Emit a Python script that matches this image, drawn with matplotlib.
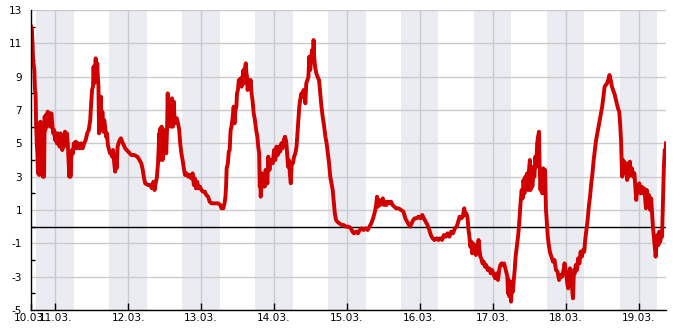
"""Air temperature, 10.03. - 19.03., with night-time shading."""
import matplotlib

matplotlib.use("Agg")
import matplotlib.pyplot as plt  # noqa: E402

# hours since 10.03. 00:00 and temperature in degrees C
hours = [
    16.0, 16.3, 16.5, 16.7, 16.9, 17.1, 17.3, 17.5, 17.7, 17.9, 18.1, 18.3, 18.5, 18.7, 18.9,
    19.1, 19.3, 19.5, 19.7, 19.9, 20.1, 20.3, 20.5, 20.7, 20.9, 21.2, 21.5, 21.8, 22.1, 22.4,
    22.7, 23.0, 23.3, 23.6, 23.9, 24.2, 24.5, 24.8, 25.1, 25.4, 25.7, 26.0, 26.3, 26.6, 26.9,
    27.2, 27.5, 27.8, 28.1, 28.4, 28.6, 28.8, 29.0, 29.2, 29.5, 29.8, 30.1, 30.4, 30.7, 31.0,
    31.5, 32.0, 32.5, 33.0, 33.5, 34.0, 34.5, 35.0, 35.5, 35.8, 36.1, 36.4, 36.6, 36.8, 37.0,
    37.3, 37.6, 37.8, 38.0, 38.2, 38.4, 38.6, 38.8, 39.0, 39.2, 39.5, 39.8, 40.1, 40.4, 40.7,
    41.0, 41.3, 41.7, 42.0, 42.4, 42.7,
    43.0, 43.4, 43.7, 43.9, 44.2, 44.5, 44.8, 45.2, 45.6, 46.0, 46.5, 47.0, 47.5, 48.0, 48.5,
    49.0, 50.0, 51.0, 51.7, 52.3, 52.8, 53.2, 53.6, 54.5, 55.2, 55.8, 56.3, 56.7, 57.0, 57.4,
    57.8, 58.0, 58.2, 58.4, 58.6, 58.8, 59.0, 59.3, 59.6, 59.9, 60.2, 60.5, 60.8, 61.0, 61.2,
    61.4, 61.6, 61.9, 62.1, 62.4, 62.7, 63.0, 63.3, 63.6, 64.0, 64.4, 64.8, 65.1, 65.5, 65.9,
    66.3, 66.7, 67.2, 67.7, 68.2, 68.7,
    69.2, 69.6, 69.9, 70.3, 70.7, 71.1, 71.6, 72.1, 72.6, 73.2, 73.7, 74.3, 74.8, 75.4, 76.5,
    77.6, 78.3, 78.7, 79.0, 79.3, 79.7, 80.0, 80.2, 80.4, 80.8, 81.1, 81.4, 81.7, 82.0, 82.4,
    82.7, 83.0, 83.3, 83.6, 83.8, 84.1, 84.4, 84.7, 85.0, 85.3, 85.6, 85.9, 86.2, 86.5, 86.7,
    86.9, 87.1, 87.3, 87.6, 88.0, 88.3, 88.6, 88.9, 89.3, 89.7, 90.1, 90.5, 90.8, 91.1, 91.3,
    91.5, 91.6, 91.8, 92.0, 92.3, 92.6, 92.9, 93.2, 93.5, 93.8, 94.1, 94.5, 94.8, 95.2, 95.6,
    96.0, 96.4, 96.8, 97.2, 97.6, 98.0, 98.4, 98.8, 99.2, 99.6, 100.0, 100.3, 100.6, 100.9,
    101.2, 101.5, 101.8, 102.2, 102.6, 103.0, 103.4, 103.7, 104.0, 104.3, 104.6, 105.0, 105.4,
    105.7, 106.0, 106.3, 106.6, 107.0, 107.3, 107.6, 107.9, 108.2, 108.5, 108.8, 109.0, 109.2,
    109.5, 109.9, 110.3, 110.8, 111.2, 111.6, 112.0, 112.5, 112.9, 113.3, 113.7, 114.1, 114.5,
    114.9, 115.3, 115.7, 116.0, 116.4, 116.8, 117.5, 118.2, 118.9, 119.6,
    120.5, 121.3, 121.8, 122.3, 123.0, 123.6, 124.2, 124.8, 125.5, 126.2, 126.8, 127.4, 128.0,
    128.6, 129.2, 129.6, 129.9, 130.2, 130.6, 131.0, 131.5, 131.8, 132.2, 132.6, 133.0, 133.5,
    134.0, 134.5, 135.0, 135.6, 136.2, 137.0, 137.8, 138.6, 139.2, 139.8, 140.4, 140.8, 141.3,
    141.8, 142.3, 142.9, 143.5, 144.2, 144.8, 145.3, 145.9, 146.5, 147.1, 147.6, 148.2, 148.8,
    149.5, 150.1, 150.7, 151.3, 151.9, 152.5, 153.1, 153.7, 154.3, 154.9, 155.5, 156.1, 156.6,
    157.1,
    157.6, 158.1, 158.4, 158.6, 158.9, 159.3, 159.7, 160.0, 160.3, 160.6, 160.9, 161.2, 161.5,
    161.8, 162.1, 162.4, 162.7, 163.0, 163.3, 163.6, 163.9, 164.2, 164.6, 165.0, 165.4, 165.8,
    166.3, 166.8, 167.3, 167.8, 168.3, 168.8, 169.3, 169.7, 170.1, 170.5, 170.9, 171.3, 171.7,
    172.1, 172.5, 172.8, 173.0, 173.2, 173.5, 173.8, 174.0, 174.3, 174.6, 174.9, 175.2, 175.5,
    175.9, 176.3, 176.6, 176.9, 177.2, 177.5, 177.8, 178.1, 178.4, 178.7, 179.0, 179.3, 179.6,
    179.9, 180.2, 180.4, 180.7, 181.0, 181.4, 181.7, 182.0, 182.3, 182.6, 182.9, 183.2, 183.4,
    183.7, 184.0, 184.3, 184.6, 184.9, 185.2, 185.5, 185.8, 186.1, 186.5, 186.9, 187.3, 187.8,
    188.3, 188.8, 189.3, 189.8, 190.3, 190.8, 191.3, 191.6, 191.9, 192.2, 192.5, 192.8, 193.1,
    193.4, 193.7, 194.0, 194.2, 194.4, 194.7, 195.0, 195.3, 195.7, 196.1, 196.5, 196.9, 197.3,
    197.7, 198.1, 198.4, 198.8, 199.2, 199.6, 200.0, 200.4, 200.8, 201.2, 201.6, 202.0, 202.4,
    202.8, 203.2, 203.6, 204.0, 204.4, 204.8, 205.2, 205.6, 206.0, 206.4, 206.8, 207.2, 207.6,
    208.0, 208.4, 208.8, 209.2, 209.6, 209.9, 210.2, 210.4, 210.6, 210.8, 211.0, 211.3, 211.6,
    211.9, 212.2, 212.5, 212.8, 213.1, 213.4, 213.8, 214.2, 214.6, 214.9, 215.2, 215.5, 215.8,
    216.2, 216.6, 217.0, 217.4, 217.8, 218.1, 218.4, 218.7, 219.0, 219.4, 219.8, 220.1, 220.4,
    220.7, 221.0, 221.3, 221.6, 221.9, 222.2, 222.5, 222.8, 223.1, 223.4, 223.7, 223.9, 224.1,
    224.3, 224.6, 224.8, 225.0,
]
temp = [
    12.0, 11.8, 11.0, 10.0, 9.7, 9.4, 8.2, 8.0, 6.0, 5.0, 4.4, 3.2, 4.8, 3.1, 5.6,
    6.3, 4.6, 6.2, 4.2, 3.0, 5.0, 3.0, 6.6, 5.8, 6.7, 6.0, 6.9, 6.2, 6.8, 6.0,
    6.8, 6.2, 5.6, 5.8, 5.2, 5.6, 5.0, 5.6, 5.4, 4.8, 5.6, 5.2, 4.6, 5.5, 4.8,
    5.7, 4.9, 5.6, 5.0, 3.8, 3.0, 4.4, 3.0, 4.0, 4.6, 4.4, 5.0, 4.7, 5.1, 4.7,
    5.0, 4.7, 5.0, 4.7, 5.0, 5.2, 5.6, 5.8, 6.4, 7.4, 8.2, 8.4, 9.6, 8.6, 9.3,
    10.1, 9.0, 9.8, 9.0, 8.4, 5.6, 7.4, 6.0, 7.8, 5.8, 6.9, 5.7, 6.4, 6.0, 5.4,
    5.6, 4.9, 4.6, 4.4, 4.4, 4.2,
    4.6, 3.8, 3.3, 4.2, 3.5, 4.8, 5.0, 5.2, 5.3, 5.1, 4.9, 4.7, 4.6, 4.5, 4.4,
    4.3, 4.3, 4.2, 4.0, 3.8, 3.4, 2.9, 2.6, 2.5, 2.5, 2.3, 2.7, 2.2, 2.6, 2.9,
    3.8, 4.6, 5.6, 4.0, 5.9, 4.2, 6.0, 4.0, 5.6, 4.5, 5.8, 4.4, 6.0, 8.0, 6.0,
    7.6, 6.2, 7.2, 6.0, 7.7, 6.0, 7.5, 6.2, 6.4, 6.5, 6.2, 5.8, 5.0, 4.4, 4.0,
    3.5, 3.1, 3.2, 3.0, 3.1, 2.9,
    3.2, 2.5, 2.9, 2.3, 2.7, 2.3, 2.4, 2.2, 2.1, 2.1, 1.9, 1.8, 1.5, 1.4, 1.4,
    1.4, 1.3, 1.1, 1.2, 1.1, 1.4, 1.8, 2.4, 3.5, 3.8, 4.5, 4.6, 5.8, 6.0, 6.6,
    7.2, 6.2, 7.0, 7.2, 8.0, 8.2, 8.8, 8.6, 8.9, 8.4, 8.9, 9.4, 8.6, 9.6, 9.8,
    9.2, 9.0, 8.2, 8.8, 8.4, 8.8, 8.0, 7.6, 6.8, 6.4, 5.8, 5.4, 4.8, 4.4, 2.4,
    3.0, 1.8, 2.3, 3.2, 2.6, 3.0, 2.4, 3.4, 3.2, 2.6, 4.2, 3.4, 4.0, 4.0, 3.8,
    4.6, 4.0, 4.8, 4.3, 4.8, 4.5, 5.0, 4.7, 5.2, 5.4, 5.1, 4.4, 3.6, 4.0,
    3.2, 2.6, 3.8, 3.8, 4.2, 4.4, 4.8, 5.6, 6.4, 7.2, 7.6, 8.0, 7.8,
    8.2, 8.0, 7.4, 8.6, 8.8, 9.0, 10.2, 9.4, 10.0, 10.6, 10.0, 11.2, 10.2,
    9.6, 9.2, 9.0, 8.8, 8.0, 7.2, 6.6, 6.0, 5.4, 5.0, 4.4, 3.8, 3.0,
    2.6, 2.2, 1.4, 0.8, 0.4, 0.3, 0.2, 0.1, 0.1, 0.0,
    0.0, -0.1, -0.3, -0.4, -0.3, -0.4, -0.2, -0.1, -0.2, -0.1, -0.2, 0.0, 0.2,
    0.5, 0.9, 1.3, 1.8, 1.2, 1.6, 1.3, 1.5, 1.7, 1.3, 1.5, 1.3, 1.5,
    1.4, 1.5, 1.3, 1.2, 1.1, 1.1, 1.0, 0.9, 0.5, 0.3, 0.1, 0.0, 0.2,
    0.4, 0.5, 0.5, 0.6, 0.5, 0.7, 0.5, 0.3, 0.1, -0.2, -0.5, -0.7, -0.8,
    -0.7, -0.8, -0.7, -0.8, -0.5, -0.6, -0.4, -0.6, -0.3, -0.4, -0.1, 0.0, 0.3,
    0.6,
    0.5, 0.6, 0.9, 1.1, 0.7, 0.8, 0.5, -0.2, -0.6, -1.2, -0.9, -1.6, -1.0,
    -1.5, -1.1, -1.7, -1.3, -1.6, -0.8, -1.4, -1.8, -1.9, -2.2, -2.1, -2.4, -2.3,
    -2.6, -2.5, -2.8, -2.6, -2.9, -3.1, -2.8, -3.2, -2.6, -2.3, -2.2, -2.3, -2.2,
    -2.5, -2.8, -3.0, -4.0, -3.2, -4.2, -3.3, -4.5, -3.6, -3.9, -3.2, -2.6, -1.8,
    -1.2, -0.6, 0.0, 0.8, 1.6, 2.2, 1.7, 2.8, 2.0, 3.0, 2.4, 3.2, 2.2,
    3.4, 4.0, 2.2, 3.6, 2.4, 3.2, 3.0, 4.2, 3.6, 5.0, 5.4, 5.7, 3.6,
    2.2, 3.4, 2.0, 3.5, 2.2, 3.4, 1.0, 0.2, -0.6, -1.2, -1.6, -1.8, -2.1,
    -2.0, -2.6, -2.7, -3.2, -2.9, -3.0, -2.6, -2.2, -2.5, -2.9, -3.4, -3.7, -3.0,
    -2.5, -3.4, -3.1, -4.0, -4.3, -2.6, -2.8, -2.3, -2.6, -1.9, -2.2, -1.5, -1.8,
    -1.4, -1.5, -0.8, -0.2, 0.4, 1.2, 1.8, 2.6, 3.2, 4.0, 4.6, 5.2, 5.6,
    6.0, 6.4, 6.8, 7.2, 7.8, 8.4, 8.5, 8.6, 8.8, 9.1, 8.8, 8.4, 8.2,
    8.0, 7.7, 7.4, 7.1, 6.9, 6.2, 5.2, 3.9, 3.0, 4.0, 3.4, 3.9, 3.2,
    3.6, 2.8, 3.8, 3.0, 3.9, 3.1, 3.5, 3.0, 3.2, 2.4, 1.6, 2.2, 2.1,
    2.6, 2.0, 2.4, 2.0, 2.3, 1.8, 1.1, 2.2, 1.2, 1.9, 1.0, 1.7, 0.8,
    0.0, -0.6, -1.2, -1.8, -1.0, -0.5, -1.1, -0.3, -0.9, -0.4, -0.6, 0.8, 2.4,
    3.6, 4.6, 4.2, 5.0,
]

day_labels = ["10.03.", "11.03.", "12.03.", "13.03.", "14.03.",
              "15.03.", "16.03.", "17.03.", "18.03.", "19.03."]
y_major = [-5, -3, -1, 1, 3, 5, 7, 9, 11, 13]
y_minor = [-4, -2, 0, 2, 4, 6, 8, 10, 12]
night_start = 17.75  # hour of the day
night_end = 6.1      # hour of the next day

LINE = "#d10000"
BAND = "#ebecf1"
GRID = "#cbcbcf"

plt.rcParams.update({
    "font.family": "DejaVu Sans",
    "font.size": 7.6,
    "axes.unicode_minus": False,
})

fig = plt.figure(figsize=(6.85, 3.30), dpi=100)
ax = fig.add_axes([31 / 685, 20 / 330, 635 / 685, 300 / 330])

for d in range(len(day_labels)):
    ax.axvspan(d * 24 + night_start, (d + 1) * 24 + night_end, color=BAND, lw=0, zorder=0)

midnights = [24 * (d + 1) for d in range(len(day_labels) - 1)]
for m in midnights:
    ax.axvline(m, color=GRID, lw=1, zorder=1)
for v in y_major:
    ax.axhline(v, color=GRID, lw=1, zorder=1)
ax.axhline(0, color="black", lw=1, zorder=2)

ax.plot(hours, temp, color=LINE, lw=2.8, zorder=3)

ax.set_xlim(hours[0], hours[-1])
ax.set_ylim(-5, 13)
ax.set_xticks([hours[0]] + midnights, day_labels)
ax.set_yticks(y_major, [str(v) for v in y_major])
ax.set_yticks(y_minor, minor=True)
ax.tick_params(axis="x", direction="in", length=5, width=1, color="black", pad=2.5)
ax.tick_params(axis="y", which="major", length=0, pad=6.5)
ax.tick_params(axis="y", which="minor", direction="in", length=3, width=1, color="black")

for side in ("top", "right"):
    ax.spines[side].set_visible(False)
for side in ("left", "bottom"):
    ax.spines[side].set_color("black")
    ax.spines[side].set_linewidth(1)
    ax.spines[side].set_zorder(4)

fig.savefig("out.png", dpi=100, facecolor="white")
